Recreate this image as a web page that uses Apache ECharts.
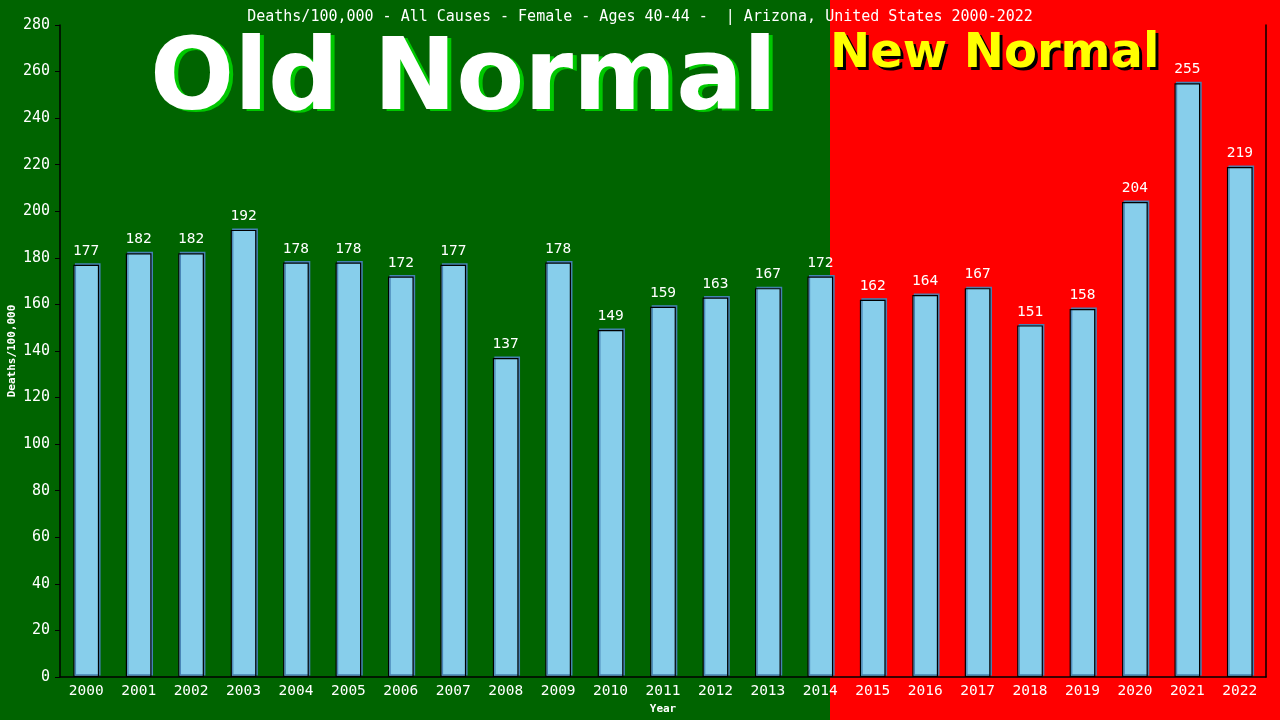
<!DOCTYPE html>
<html><head><meta charset="utf-8">
<script src="https://cdn.jsdelivr.net/npm/echarts@6/dist/echarts.min.js"></script>
<style>html,body{margin:0;padding:0;background:#006400;}#c{width:1280px;height:720px;}</style>
</head><body><div id="c"></div>
<script>
const years = ['2000','2001','2002','2003','2004','2005','2006','2007','2008','2009','2010','2011','2012','2013','2014','2015','2016','2017','2018','2019','2020','2021','2022'];
const deaths = [177,182,182,192,178,178,172,177,137,178,149,159,163,167,172,162,164,167,151,158,204,255,219];
const yTicks = {min:0, max:280, interval:20};
const titleText = 'Deaths/100,000 - All Causes - Female - Ages 40-44 -  | Arizona, United States 2000-2022';
const mono = 'DejaVu Sans Mono';

const chart = echarts.init(document.getElementById('c'));
chart.setOption({
  animation:false,
  backgroundColor:'transparent',
  title:{text:titleText,left:'center',top:5,textStyle:{color:'#fff',fontFamily:mono,fontSize:15,fontWeight:'normal'}},
  graphic:[
    {type:'rect',z:-100,shape:{x:0,y:0,width:830,height:720},style:{fill:'#006400'}},
    {type:'rect',z:-100,shape:{x:830,y:0,width:450,height:720},style:{fill:'#ff0000'}},
    {type:'text',z:1,x:154,y:135,style:{text:'Old Normal',fill:'#00c800',font:'bold 99px "DejaVu Sans"',verticalAlign:'bottom'}},
    {type:'text',z:1,x:150,y:133,style:{text:'Old Normal',fill:'#ffffff',font:'bold 99px "DejaVu Sans"',verticalAlign:'bottom'}},
    {type:'text',z:1,x:833,y:82,style:{text:'New Normal',fill:'#000000',font:'bold 48px "DejaVu Sans"',verticalAlign:'bottom'}},
    {type:'text',z:1,x:830,y:79,style:{text:'New Normal',fill:'#ffff00',font:'bold 48px "DejaVu Sans"',verticalAlign:'bottom'}}
  ],
  grid:{left:60,right:14,top:25,bottom:43,containLabel:false,outerBoundsMode:'none'},
  xAxis:{type:'category',data:years,name:'Year',nameLocation:'middle',nameGap:25,
    nameTextStyle:{color:'#fff',fontFamily:mono,fontSize:11,fontWeight:'bold'},
    axisLine:{lineStyle:{color:'#000',width:1.5}},axisTick:{show:false},
    axisLabel:{color:'#fff',fontFamily:mono,fontSize:14.5,margin:7}},
  yAxis:[{type:'value',min:yTicks.min,max:yTicks.max,interval:yTicks.interval,name:'Deaths/100,000',nameLocation:'middle',nameGap:42,
    nameMoveOverlap:false,
    nameTextStyle:{color:'#fff',fontFamily:mono,fontSize:11,fontWeight:'bold'},
    axisLine:{show:true,lineStyle:{color:'#000',width:1.5}},axisTick:{show:true,length:5,lineStyle:{color:'#000'}},
    splitLine:{show:false},
    axisLabel:{color:'#fff',fontFamily:mono,fontSize:15,margin:10}},
   {type:'value',position:'right',min:yTicks.min,max:yTicks.max,interval:yTicks.interval,
    axisLine:{show:true,lineStyle:{color:'#000',width:1.5}},axisTick:{show:false},axisLabel:{show:false},splitLine:{show:false}}],
  series:[{type:'bar',data:deaths,barWidth:'49%',
    itemStyle:{color:'#87ceeb',borderColor:'#000',borderWidth:1.2,shadowColor:'#4682b4',shadowBlur:0,shadowOffsetX:1.5,shadowOffsetY:-1.5},
    label:{show:true,position:'top',distance:6,color:'#fff',fontFamily:mono,fontSize:14.5}}]
});
</script></body></html>
